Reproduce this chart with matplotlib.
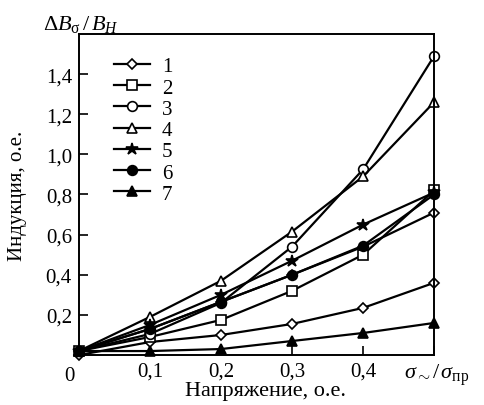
import matplotlib
matplotlib.use('Agg')
import matplotlib.pyplot as plt

plt.rcParams['font.family'] = ['Liberation Serif', 'DejaVu Serif']
plt.rcParams['mathtext.fontset'] = 'custom'
plt.rcParams['mathtext.rm'] = 'Liberation Serif'
plt.rcParams['mathtext.it'] = 'Liberation Serif:italic'

x = [0.0, 0.1, 0.2, 0.3, 0.4, 0.5]

s1 = [0.00, 0.065, 0.10, 0.155, 0.235, 0.36]
s1b = [0.02, 0.13, 0.265, 0.40, 0.54, 0.71]
s2 = [0.02, 0.09, 0.175, 0.32, 0.50, 0.82]
s3 = [0.02, 0.105, 0.26, 0.54, 0.925, 1.49]
s4 = [0.02, 0.19, 0.37, 0.615, 0.89, 1.26]
s5 = [0.02, 0.15, 0.30, 0.47, 0.65, 0.81]
s6 = [0.02, 0.13, 0.265, 0.40, 0.545, 0.80]
s7 = [0.02, 0.02, 0.03, 0.07, 0.11, 0.16]

labels = ['1', '2', '3', '4', '5', '6', '7']
xticks = [0.1, 0.2, 0.3, 0.4]
xticklabels = ['0,1', '0,2', '0,3', '0,4']
yticks = [0.2, 0.4, 0.6, 0.8, 1.0, 1.2, 1.4]
yticklabels = ['0,2', '0,4', '0,6', '0,8', '1,0', '1,2', '1,4']

fig = plt.figure(figsize=(4.84, 4.06), dpi=100)
ax = fig.add_axes([0.163, 0.123, 0.734, 0.791])

kw = dict(color='black', lw=1.6, ms=7, mew=1.2, clip_on=False)
open_kw = dict(kw, mfc='white')

ax.plot(x, s1b, marker='D', **dict(open_kw, ms=5.5))
ax.plot(x, s1, marker='D', label=labels[0], **dict(open_kw, ms=5.5))
ax.plot(x, s2, marker='s', label=labels[1], **dict(open_kw, ms=6.5))
ax.plot(x, s3, marker='o', label=labels[2], **open_kw)
ax.plot(x, s4, marker='^', label=labels[3], **open_kw)
ax.plot(x, s5, marker='*', label=labels[4], **dict(kw, ms=9))
ax.plot(x, s6, marker='o', label=labels[5], **kw)
ax.plot(x, s7, marker='^', label=labels[6], **kw)

ax.set_xlim(0, 0.5)
ax.set_ylim(0, 1.6)
ax.set_xticks(xticks + [0.5])
ax.set_xticklabels(xticklabels + [''])
ax.set_yticks(yticks)
ax.set_yticklabels(yticklabels)
ax.tick_params(direction='in', length=6.5, width=1.2, labelsize=15, pad=5)
for sp in ax.spines.values():
    sp.set_linewidth(1.4)

ax.text(-0.012, -0.035, '0', transform=ax.transAxes, ha='right', va='top', fontsize=15)
fig.text(0.835, 0.045, r'$\sigma_{\sim}/\,\sigma_{\rm пр}$', fontsize=16, ha='left', va='bottom')
fig.text(0.088, 0.925, r'$\Delta B_{\rm\sigma}\,/\,B_{H}$', fontsize=16, ha='left', va='baseline')
ax.set_ylabel('Индукция, о.е.', fontsize=15)
ax.yaxis.set_label_coords(-0.145, 0.5)
ax.set_xlabel('Напряжение, о.е.', fontsize=16)
ax.xaxis.set_label_coords(0.525, -0.08)

ax.legend(loc='upper left', bbox_to_anchor=(0.075, 0.955), frameon=False,
          fontsize=15, handlelength=1.75, handletextpad=0.55, labelspacing=0.08,
          borderaxespad=0)

fig.savefig('out.png', dpi=100)
